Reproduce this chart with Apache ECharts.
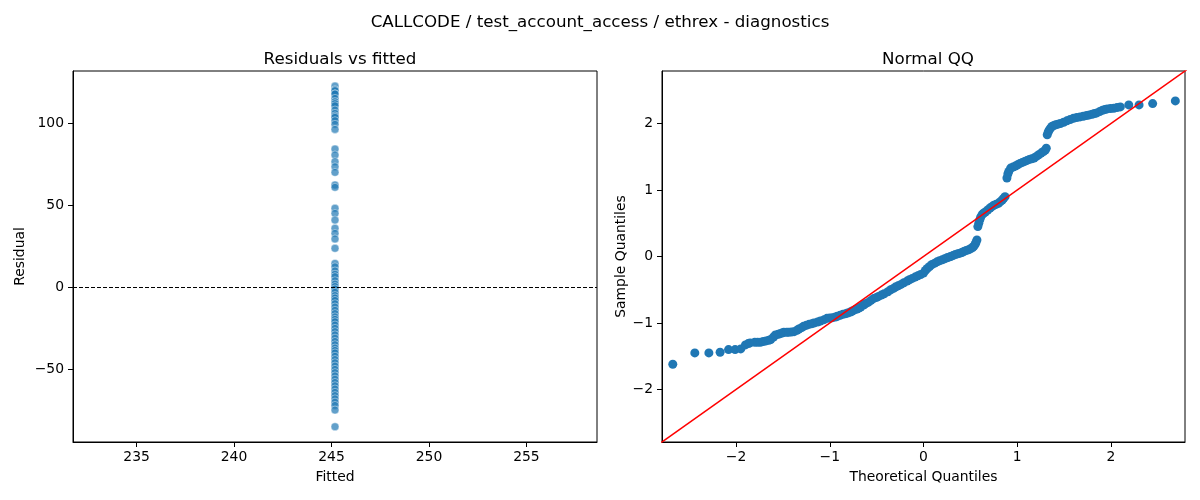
<!DOCTYPE html>
<html>
<head>
<meta charset="utf-8">
<title>CALLCODE / test_account_access / ethrex - diagnostics</title>
<script src="https://cdn.jsdelivr.net/npm/echarts@6/dist/echarts.min.js"></script>
<style>
  html, body { margin: 0; padding: 0; background: #fff; }
  #chart { width: 1200px; height: 500px; }
</style>
</head>
<body>
<div id="chart"></div>
<script>
// 数据（从图上读出来的）
const fittedValue = 245.18; // 所有点的拟合值都一样

const residuals = [
  122.7, 120.5, 119.9, 118, 117.9, 115.2, 113.2, 112, 110.7, 108.1, 106.1, 104.5,
  103.7, 101.6, 99.4, 96.3,
  84.3, 80.7, 76.6, 73.5, 70.1, 62.4, 61,
  48.2, 45.1, 41, 36, 32.9, 29.5, 23.8,
  14.6, 12.5, 10, 8, 6.5, 4, 2, 0.5, -1, -3, -5, -6.5, -8, -10, -12, -14,
  -16, -18, -19.5, -21, -23, -25, -27, -29, -31, -33, -35, -37, -38.5, -40,
  -42, -44, -46, -48, -50, -52, -54, -56, -58, -60, -62, -64, -66, -68, -70,
  -72, -74.8, -85
];

// QQ 图：理论分位数 / 样本分位数
const theoQuantiles = [
  -2.675, -2.44, -2.29, -2.17, -2.08, -2.01, -1.95, -1.90, -1.87, -1.85,
  -1.80, -1.77, -1.74, -1.71, -1.68, -1.65, -1.63, -1.60, -1.58, -1.55,
  -1.53, -1.51, -1.49, -1.46, -1.44, -1.41, -1.38, -1.35, -1.33, -1.30,
  -1.28, -1.25, -1.22, -1.19, -1.17, -1.13, -1.10, -1.06, -1.03, -1.00,
  -0.97, -0.94, -0.92, -0.89, -0.86, -0.83, -0.81, -0.78, -0.76, -0.73,
  -0.71, -0.69, -0.67, -0.64, -0.62, -0.59, -0.56, -0.53, -0.50, -0.48,
  -0.45, -0.42, -0.38, -0.35, -0.32, -0.30, -0.27, -0.24, -0.21, -0.175,
  -0.15, -0.12, -0.09, -0.06, -0.03, 0.0, 0.02, 0.04, 0.065, 0.09,
  0.12, 0.145, 0.17, 0.20, 0.225, 0.25, 0.27, 0.29, 0.315, 0.34,
  0.365, 0.39, 0.41, 0.43, 0.455, 0.48, 0.50, 0.52, 0.535, 0.55,
  0.56, 0.57, 0.58, 0.59, 0.60, 0.61, 0.625, 0.64, 0.66, 0.685,
  0.71, 0.73, 0.75, 0.775, 0.80, 0.82, 0.84, 0.855, 0.87, 0.89,
  0.90, 0.91, 0.93, 0.955, 0.98, 1.005, 1.03, 1.055, 1.08, 1.105,
  1.13, 1.155, 1.18, 1.205, 1.23, 1.255, 1.28, 1.30, 1.31, 1.32,
  1.33, 1.34, 1.355, 1.37, 1.39, 1.41, 1.435, 1.46, 1.495, 1.53,
  1.565, 1.60, 1.635, 1.67, 1.705, 1.74, 1.77, 1.80, 1.825, 1.85,
  1.88, 1.91, 1.935, 1.96, 1.995, 2.03, 2.065, 2.10, 2.19, 2.30,
  2.445, 2.687
];
const sampleQuantiles = [
  -1.62, -1.45, -1.45, -1.44, -1.40, -1.40, -1.39, -1.33, -1.31, -1.30,
  -1.29, -1.29, -1.29, -1.28, -1.27, -1.26, -1.25, -1.21, -1.18, -1.17,
  -1.16, -1.15, -1.14, -1.14, -1.14, -1.135, -1.13, -1.11, -1.09, -1.07,
  -1.05, -1.035, -1.02, -1.01, -1.00, -0.985, -0.97, -0.95, -0.93, -0.925,
  -0.92, -0.91, -0.90, -0.885, -0.87, -0.86, -0.85, -0.835, -0.82, -0.80,
  -0.79, -0.775, -0.76, -0.73, -0.71, -0.69, -0.66, -0.63, -0.615, -0.60,
  -0.58, -0.56, -0.53, -0.50, -0.48, -0.46, -0.44, -0.42, -0.395, -0.37,
  -0.35, -0.33, -0.31, -0.29, -0.27, -0.25, -0.21, -0.18, -0.15, -0.12,
  -0.10, -0.08, -0.065, -0.05, -0.035, -0.02, -0.01, 0.0, 0.015, 0.03,
  0.04, 0.05, 0.06, 0.075, 0.09, 0.10, 0.115, 0.13, 0.15, 0.18,
  0.21, 0.25, 0.45, 0.50, 0.55, 0.59, 0.63, 0.65, 0.67, 0.70,
  0.73, 0.75, 0.77, 0.785, 0.80, 0.825, 0.85, 0.875, 0.90, 1.18,
  1.24, 1.28, 1.33, 1.345, 1.36, 1.38, 1.40, 1.415, 1.43, 1.445,
  1.46, 1.47, 1.48, 1.505, 1.53, 1.555, 1.58, 1.60, 1.63, 1.83,
  1.87, 1.90, 1.93, 1.955, 1.97, 1.98, 1.99, 2.00, 2.02, 2.04,
  2.06, 2.08, 2.09, 2.10, 2.11, 2.12, 2.13, 2.14, 2.15, 2.16,
  2.18, 2.20, 2.21, 2.22, 2.225, 2.23, 2.24, 2.25, 2.28, 2.28,
  2.30, 2.34
];

// 45 度参考线
const qqLine = [[-3, -3], [3, 3]];

// 刻度
const fittedTicks = [235, 240, 245, 250, 255];
const residTicks = [-50, 0, 50, 100];
const qqTicks = [-2, -1, 0, 1, 2];

const FONT = "DejaVu Sans";

function axisCommon(ticks, name, nameGap) {
  return {
    type: "value",
    name: name,
    nameLocation: "middle",
    nameGap: nameGap,
    nameTextStyle: { fontFamily: FONT, fontSize: 13.9, color: "#000" },
    splitLine: { show: false },
    axisLine: { show: true, onZero: false, lineStyle: { color: "#000", width: 1 } },
    axisTick: {
      show: true, length: 5, inside: false,
      customValues: ticks,
      lineStyle: { color: "#000", width: 1 }
    },
    axisLabel: {
      customValues: ticks,
      fontFamily: FONT, fontSize: 13.9, color: "#000",
      formatter: v => String(v).replace("-", "\u2212")
    }
  };
}

function initChart() {
  const chartDom = document.getElementById("chart");
  const myChart = echarts.init(chartDom);

  const xLeft = axisCommon(fittedTicks, "Fitted", 28);
  xLeft.gridIndex = 0; xLeft.min = 231.74; xLeft.max = 258.62;
  xLeft.axisLabel.margin = 8;
  const yLeft = axisCommon(residTicks, "Residual", 46);
  yLeft.gridIndex = 0; yLeft.min = -94.3; yLeft.max = 131.9;
  yLeft.axisLabel.margin = 9;

  const xRight = axisCommon(qqTicks, "Theoretical Quantiles", 28);
  xRight.gridIndex = 1; xRight.min = -2.79; xRight.max = 2.79;
  xRight.axisLabel.margin = 8;
  const yRight = axisCommon(qqTicks, "Sample Quantiles", 34);
  yRight.gridIndex = 1; yRight.min = -2.79; yRight.max = 2.79;
  yRight.axisLabel.margin = 9;

  const option = {
    animation: false,
    backgroundColor: "#fff",
    title: [
      { text: "CALLCODE / test_account_access / ethrex - diagnostics", left: "center", top: 9,
        textStyle: { fontFamily: FONT, fontSize: 16.7, fontWeight: "normal", color: "#000" } },
      { text: "Residuals vs fitted", left: 335, top: 46, textAlign: "center",
        textStyle: { fontFamily: FONT, fontSize: 16.7, fontWeight: "normal", color: "#000" } },
      { text: "Normal QQ", left: 923, top: 46, textAlign: "center",
        textStyle: { fontFamily: FONT, fontSize: 16.7, fontWeight: "normal", color: "#000" } }
    ],
    grid: [
      { left: 73, right: 603, top: 71, bottom: 58, show: true, borderColor: "#000", borderWidth: 1 },
      { left: 662, right: 15, top: 71, bottom: 58, show: true, borderColor: "#000", borderWidth: 1 }
    ],
    xAxis: [xLeft, xRight],
    yAxis: [yLeft, yRight],
    series: [
      {
        type: "scatter",
        xAxisIndex: 0, yAxisIndex: 0,
        symbolSize: 8,
        data: residuals.map(r => [fittedValue, r]),
        itemStyle: { color: "#1f77b4", opacity: 0.7, borderColor: "#fff", borderWidth: 0.6 },
        markLine: {
          silent: true,
          symbol: ["none", "none"],
          label: { show: false },
          lineStyle: { color: "#000", width: 1, type: [4, 2] },
          data: [{ yAxis: 0 }]
        }
      },
      {
        type: "scatter",
        xAxisIndex: 1, yAxisIndex: 1,
        symbolSize: 9,
        data: theoQuantiles.map((t, i) => [t, sampleQuantiles[i]]),
        itemStyle: { color: "#1f77b4", opacity: 1 }
      },
      {
        type: "line",
        xAxisIndex: 1, yAxisIndex: 1,
        data: qqLine,
        clip: true,
        showSymbol: false,
        symbol: "none",
        lineStyle: { color: "#ff0000", width: 1.5 },
        z: 3
      }
    ]
  };

  myChart.setOption(option);
}

window.onload = initChart;
</script>
</body>
</html>
